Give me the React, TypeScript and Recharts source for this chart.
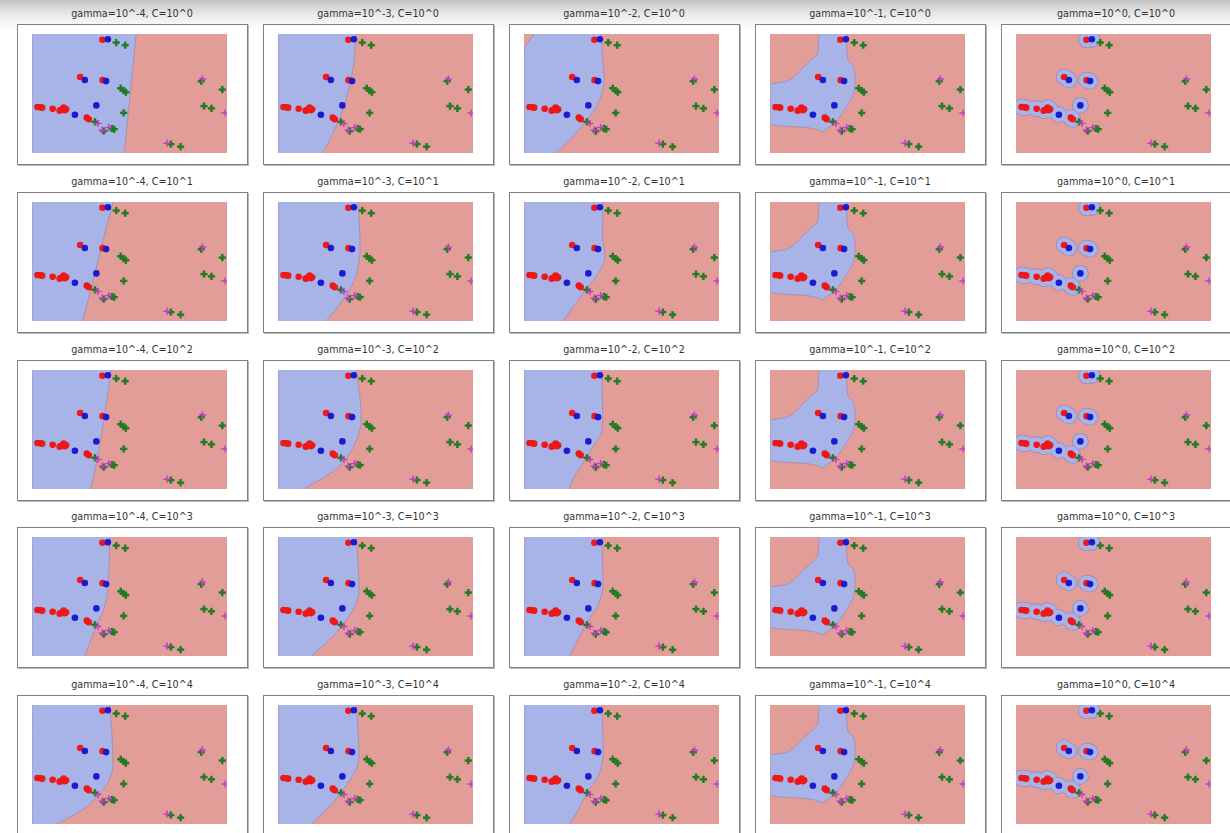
import React from 'react'
import { ComposedChart, Area, Scatter, XAxis, YAxis } from 'recharts'

const gammaLabels = ['10^-4', '10^-3', '10^-2', '10^-1', '10^0']
const cLabels = ['10^0', '10^1', '10^2', '10^3', '10^4']

// class 0 (red / blue dots), class 1 (green / magenta crosses), [x, y] in 0..1
const redPts = [
  [0.361, 0.952], [0.247, 0.639], [0.362, 0.612], [0.028, 0.386], [0.042, 0.384],
  [0.052, 0.381], [0.106, 0.372], [0.142, 0.356], [0.152, 0.366], [0.162, 0.381],
  [0.175, 0.368], [0.168, 0.36], [0.281, 0.297], [0.291, 0.283],
]
const bluePts = [[0.389, 0.956], [0.271, 0.614], [0.38, 0.604], [0.33, 0.4], [0.22, 0.322]]
const greenPts = [
  [0.432, 0.928], [0.478, 0.906], [0.455, 0.544], [0.47, 0.525], [0.481, 0.511],
  [0.47, 0.337], [0.323, 0.262], [0.409, 0.206], [0.421, 0.2], [0.368, 0.184],
  [0.868, 0.603], [0.976, 0.533], [0.882, 0.394], [0.92, 0.375], [0.712, 0.075], [0.762, 0.053],
]
const magentaPts = [[0.874, 0.622], [0.99, 0.336], [0.338, 0.248], [0.393, 0.214], [0.36, 0.192], [0.692, 0.083]]

// decision region (blue) per row of C: [y, xFrom, xTo]
const gamma4 = [
  [[0, 0, 0.473], [1, 0, 0.534]],
  [[0, 0, 0.261], [1, 0, 0.415]],
  [[0, 0, 0.3], [0.15, 0, 0.322], [0.4, 0, 0.35], [1, 0, 0.406]],
  [[0, 0, 0.27], [0.25, 0, 0.329], [0.46, 0, 0.38], [0.75, 0, 0.395], [1, 0, 0.398]],
  [[0, 0, 0.125], [0.095, 0, 0.235], [0.27, 0, 0.355], [0.5, 0, 0.415], [0.75, 0, 0.41], [1, 0, 0.398]],
]
const gamma3 = [
  [[0, 0, 0.23], [0.25, 0, 0.305], [0.5, 0, 0.358], [0.75, 0, 0.388], [1, 0, 0.398]],
  [[0, 0, 0.247], [0.14, 0, 0.316], [0.315, 0, 0.384], [0.61, 0, 0.421], [0.8, 0, 0.418], [1, 0, 0.41]],
  [[0, 0, 0.13], [0.17, 0, 0.3], [0.345, 0, 0.384], [0.6, 0, 0.427], [0.8, 0, 0.418], [1, 0, 0.4]],
  [[0, 0, 0.171], [0.11, 0, 0.247], [0.28, 0, 0.341], [0.54, 0, 0.415], [0.8, 0, 0.41], [1, 0, 0.4]],
  [[0, 0, 0.17], [0.12, 0, 0.247], [0.3, 0, 0.34], [0.56, 0, 0.415], [0.8, 0, 0.41], [1, 0, 0.4]],
]
const gamma2 = [
  [[0, 0, 0.163], [0.12, 0, 0.24], [0.23, 0, 0.3], [0.34, 0, 0.352], [0.48, 0, 0.395], [0.62, 0, 0.412],
    [0.786, 0, 0.404], [0.87, 0, 0.4], [0.93, 0.022, 0.397], [1, 0.055, 0.393]],
  [[0, 0, 0.2], [0.136, 0, 0.26], [0.27, 0, 0.32], [0.41, 0, 0.385], [0.54, 0, 0.415], [0.71, 0, 0.403], [1, 0, 0.406]],
  [[0, 0, 0.232], [0.11, 0, 0.26], [0.245, 0, 0.312], [0.38, 0, 0.363], [0.48, 0, 0.398], [0.62, 0, 0.403], [1, 0, 0.398]],
  [[0, 0, 0.235], [0.15, 0, 0.28], [0.3, 0, 0.33], [0.45, 0, 0.385], [0.62, 0, 0.405], [1, 0, 0.398]],
  [[0, 0, 0.235], [0.12, 0, 0.278], [0.28, 0, 0.33], [0.42, 0, 0.385], [0.6, 0, 0.406], [1, 0, 0.398]],
]
const gamma1Blob = [
  [0.18, 0.265, 0.268], [0.19, 0.25, 0.28], [0.214, 0.186, 0.3], [0.228, 0.048, 0.315], [0.24, 0, 0.322],
  [0.255, 0, 0.333], [0.325, 0, 0.367], [0.39, 0, 0.393], [0.5, 0, 0.428], [0.575, 0, 0.435],
  [0.6, 0.08, 0.436], [0.65, 0.13, 0.436], [0.72, 0.17, 0.43], [0.78, 0.21, 0.4], [0.84, 0.245, 0.395],
  [0.9, 0.248, 0.393], [1, 0.252, 0.393],
]
const gamma1 = [gamma1Blob, gamma1Blob, gamma1Blob, gamma1Blob, gamma1Blob]
const regions = [gamma4, gamma3, gamma2, gamma1, null]

const BLUE_BG = '#a8b4e8'
const RED_BG = '#e39d99'
const EDGE = '#9a8ab2'

const toPts = (arr: number[][]) => arr.map(([x, y]) => ({ x, y }))

const dot = (r: number, fill: string) => (p: any) => <circle cx={p.cx} cy={p.cy} r={r} fill={fill} />
const cross = (arm: number, w: number, color: string) => (p: any) => (
  <g stroke={color} strokeWidth={w}>
    <line x1={p.cx - arm} y1={p.cy} x2={p.cx + arm} y2={p.cy} />
    <line x1={p.cx} y1={p.cy - arm} x2={p.cx} y2={p.cy + arm} />
  </g>
)

function Panel({ gi, ci }: { gi: number; ci: number }) {
  const left = 17 + gi * 246
  const top = 24 + ci * 167.75
  const reg = regions[gi] ? regions[gi]![ci] : null
  const band = reg ? reg.map(([y, lo, hi]) => ({ y, r: [lo, hi] })) : []
  const classA = toPts([...redPts, ...bluePts])

  return (
    <>
      <div
        style={{
          position: 'absolute', left, top: top - 16, width: 230, height: 12, lineHeight: '12px',
          textAlign: 'center', fontSize: 9.6, color: '#333', fontFamily: 'DejaVu Sans, sans-serif',
        }}
      >
        gamma={gammaLabels[gi]}, C={cLabels[ci]}
      </div>
      <div
        style={{
          position: 'absolute', left, top, width: 229, height: 139, background: '#fff',
          border: '1px solid #808080', boxShadow: '1px 1px 0 #b8b8b8',
        }}
      >
        <div style={{ position: 'absolute', left: 14, top: 9, width: 195, height: 119, background: RED_BG }}>
          <ComposedChart layout="vertical" width={195} height={119} data={band}
            margin={{ top: 0, right: 0, bottom: 0, left: 0 }}>
            <XAxis type="number" dataKey="x" domain={[0, 1]} hide allowDataOverflow />
            <YAxis type="number" dataKey="y" domain={[0, 1]} hide allowDataOverflow reversed />
            {reg && (
              <Area dataKey="r" type="monotone" fill={BLUE_BG} fillOpacity={1} stroke={EDGE}
                strokeWidth={0.8} dot={false} activeDot={false} isAnimationActive={false} />
            )}
            {!reg && <Scatter data={classA} shape={dot(8.4, EDGE)} isAnimationActive={false} />}
            {!reg && <Scatter data={classA} shape={dot(7.6, BLUE_BG)} isAnimationActive={false} />}
            <Scatter data={toPts(greenPts)} shape={cross(3.6, 2.5, '#237c23')} isAnimationActive={false} />
            <Scatter data={toPts(magentaPts)} shape={cross(3.6, 1.5, '#c63cc6')} isAnimationActive={false} />
            <Scatter data={toPts(redPts)} shape={dot(3.3, '#ee1818')} isAnimationActive={false} />
            <Scatter data={toPts(bluePts)} shape={dot(3.3, '#1a1ad0')} isAnimationActive={false} />
          </ComposedChart>
        </div>
      </div>
    </>
  )
}

export default function App() {
  return (
    <div style={{ position: 'absolute', left: 0, top: 0, width: 1230, height: 833, overflow: 'hidden', background: '#fff' }}>
      <div style={{ position: 'absolute', left: 0, top: 0, width: 1230, height: 30,
        background: 'linear-gradient(to bottom, #c2c2c2 0%, #e8e8e8 45%, #ffffff 100%)' }} />
      {cLabels.map((_, ci) => gammaLabels.map((__, gi) => <Panel key={`${gi}-${ci}`} gi={gi} ci={ci} />))}
    </div>
  )
}
